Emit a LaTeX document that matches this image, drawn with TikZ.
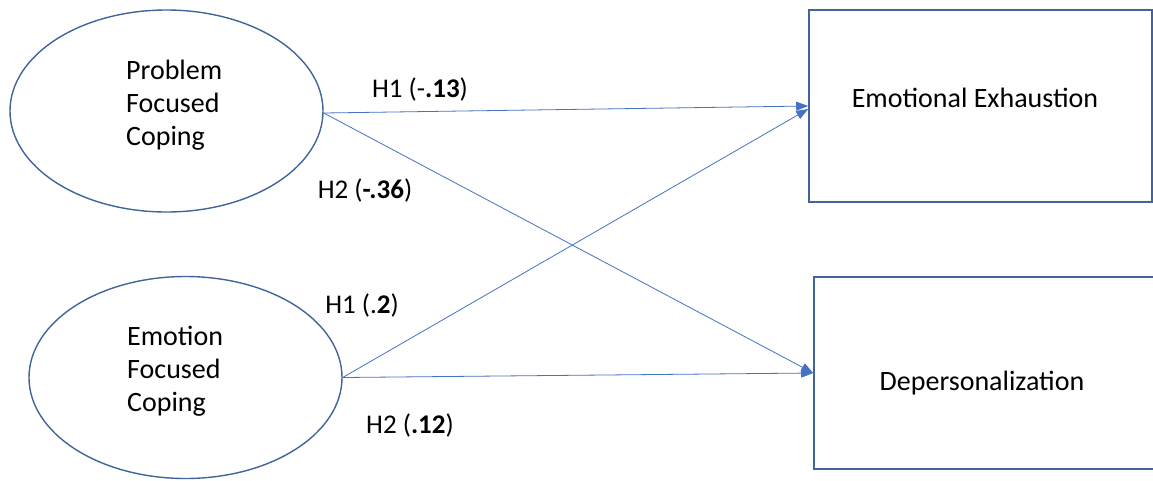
\documentclass[tikz,border=0pt]{standalone}
\usepackage{fontspec}
\setmainfont{Carlito}
\usetikzlibrary{shapes.geometric,arrows.meta,calc}
\definecolor{boxblue}{HTML}{41649A}
\definecolor{arrblue}{HTML}{4472C4}
\begin{document}
\begin{tikzpicture}[x=1pt,y=-1pt,
  latent/.style={draw=boxblue,line width=1.4pt,ellipse,inner sep=0pt,minimum width=313pt,minimum height=202pt},
  observed/.style={draw=boxblue,line width=1.6pt,rectangle,inner sep=0pt,minimum width=343pt,minimum height=192pt},
  txt/.style={font=\fontsize{28}{33}\selectfont,inner sep=0pt},
  path/.style={draw=arrblue,line width=0.8pt,-{Triangle[length=12pt,width=9pt]}},
  coef/.style={font=\fontsize{27}{30}\selectfont,inner sep=0pt}]
\useasboundingbox (0,0) rectangle (1153,480);
\node[latent] (pfc) at (166.5,111) {};
\node[latent] (efc) at (185.5,377.5) {};
\node[observed] (ee) at (980.5,106) {};
\node[observed] (dp) at (985.5,373) {};
\node[txt,align=left,anchor=west] (pfct) at (126,105) {Problem\\Focused\\Coping};
\node[txt,align=left,anchor=west] (efct) at (127,371) {Emotion\\Focused\\Coping};
\node[txt] (eet) at (975,98) {Emotional Exhaustion};
\node[txt] (dpt) at (982,383) {Depersonalization};
\draw[path] ($(pfc.east)+(0,2)$) -- (ee.west);
\draw[path] ($(pfc.east)+(0,2)$) -- (dp.west);
\draw[path] (efc.east) -- ($(ee.west)+(0,3)$);
\draw[path] (efc.east) -- (dp.west);
\node[coef] (l1) at (420,89) {H1 (-\textbf{.13})};
\node[coef] (l2) at (365,190) {H2 (\textbf{-.36})};
\node[coef] (l3) at (362,305) {H1 (.\textbf{2})};
\node[coef] (l4) at (410,425) {H2 (\textbf{.12})};
\end{tikzpicture}
\end{document}
